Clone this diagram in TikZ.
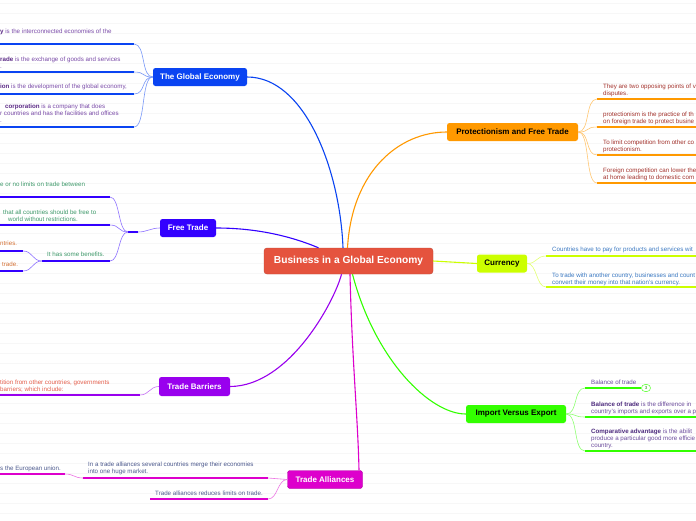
\documentclass[tikz,border=0pt]{standalone}
\usepackage{fontspec}
\setmainfont{Liberation Sans}
\definecolor{cCen}{HTML}{E5533E}
\definecolor{cGE}{HTML}{0A44F2}
\definecolor{cFT}{HTML}{3300FF}
\definecolor{cTB}{HTML}{9900EE}
\definecolor{cTA}{HTML}{DD00CC}
\definecolor{cPF}{HTML}{FF9900}
\definecolor{cCur}{HTML}{CCFF00}
\definecolor{cIE}{HTML}{33FF00}
\definecolor{tGE}{HTML}{7A4BA8}
\definecolor{tGEb}{HTML}{5B2A86}
\definecolor{tFT}{HTML}{3F9A6B}
\definecolor{tFTo}{HTML}{D47236}
\definecolor{tTB}{HTML}{E5604D}
\definecolor{tTA}{HTML}{4D5A8E}
\definecolor{tPF}{HTML}{A3322C}
\definecolor{tCur}{HTML}{3B79C2}
\definecolor{tIE}{HTML}{6B4B9C}
\definecolor{tIEb}{HTML}{4E2C7E}
\begin{document}
\begin{tikzpicture}[x=1pt,y=-1pt,
  leaf/.style={font=\fontsize{6.2}{7}\selectfont, inner sep=0pt, align=left, anchor=base west},
  topic/.style={rounded corners=2.5pt, font=\fontsize{8}{9}\selectfont\bfseries, align=center, inner sep=0pt},
  mainline/.style={line width=1.1pt, draw=#1},
  leafcon/.style={line width=0.6pt, draw=#1!55!white},
  uline/.style={line width=2.2pt, draw=#1}]
\useasboundingbox (0,0) rectangle (696,520);
\fill[white] (0,0) rectangle (696,520);
\foreach \k in {0,...,51} {\draw[black!3, line width=0.4pt] (0,3+10*\k) -- (696,3+10*\k);}

% central
\node[rounded corners=3pt, fill=cCen, draw=cCen!85!black, text=white, font=\fontsize{10.2}{11}\selectfont\bfseries, minimum width=169pt, minimum height=26pt, inner sep=0pt] (c) at (348.5,261) {Business in a Global Economy};

% topics
\node[topic, fill=cGE, text=white, minimum width=94pt, minimum height=18pt] (ge) at (200,77) {The Global Economy};
\node[topic, fill=cFT, text=white, minimum width=56pt, minimum height=18pt] (ft) at (188,228) {Free Trade};
\node[topic, fill=cTB, text=white, minimum width=71pt, minimum height=19pt] (tb) at (194.5,386.5) {Trade Barriers};
\node[topic, fill=cTA, draw=cTA!80!black, text=white, minimum width=75pt, minimum height=18pt] (ta) at (325,479.5) {Trade Alliances};
\node[topic, fill=cPF, text=black, minimum width=131pt, minimum height=18pt] (pf) at (512.5,132) {Protectionism and Free Trade};
\node[topic, fill=cCur, text=black, minimum width=50pt, minimum height=18pt] (cu) at (502,263.5) {Currency};
\node[topic, fill=cIE, text=black, minimum width=100pt, minimum height=18pt] (ie) at (516,414) {Import Versus Export};

% main connectors
\draw[mainline=cGE] (ge.east) .. controls (305,77) and (340,170) .. ([xshift=-5.5pt]c.north);
\draw[mainline=cFT] (ft.east) .. controls (265,228) and (300,240) .. ([xshift=-30pt]c.north);
\draw[mainline=cTB] (tb.east) .. controls (290,386) and (335,300) .. ([xshift=-7pt]c.south);
\draw[mainline=cTA] ([xshift=1.5pt]c.south) .. controls (352,360) and (358,420) .. ([xshift=34pt]ta.north);
\draw[mainline=cPF] ([xshift=-1pt]c.north) .. controls (352,170) and (400,132) .. (pf.west);
\draw[mainline=cCur] (c.east) -- (cu.west);
\draw[mainline=cIE] ([xshift=4pt]c.south) .. controls (375,360) and (430,414) .. (ie.west);

% ---------- The Global Economy leaves
\foreach \n/\y in {1/44,2/72,3/94,4/127} {
  \coordinate (ge\n a) at (0,\y); \coordinate (ge\n b) at (134,\y);
  \draw[uline=cGE] (ge\n a) -- (ge\n b);
  \draw[leafcon=cGE] (ge.west) .. controls +(-12,0) and +(12,0) .. (ge\n b);
}
\node[leaf, text=tGE] (ge1t) at (0,33) {\textcolor{tGEb}{\textbf{y}} is the interconnected economies of the};
\node[leaf, text=tGE] (ge2t) at (0,68) {\textcolor{tGEb}{\textbf{rade}} is the exchange of goods and services\\.};
\node[leaf, text=tGE] (ge3t) at (0,88) {\textcolor{tGEb}{\textbf{ion}} is the development of the global economy,};
\node[leaf, text=tGE] (ge4t) at (0,122) {\hspace{5pt}\textcolor{tGEb}{\textbf{corporation}} is a company that does\\r countries and has the facilities and offices\\.};

% ---------- Free Trade leaves
\coordinate (ftja) at (128,232); \coordinate (ftjb) at (138,232);
\draw[uline=cFT] (ftja) -- (ftjb);
\draw[leafcon=cFT] (ft.west) .. controls +(-9,0) and +(9,0) .. (ftjb);
\foreach \n/\y/\xa in {1/197/0,2/225/0,3/261/42} {
  \coordinate (ft\n a) at (\xa,\y); \coordinate (ft\n b) at (110,\y);
  \draw[uline=cFT] (ft\n a) -- (ft\n b);
  \draw[leafcon=cFT] (ftja) .. controls +(-10,0) and +(10,0) .. (ft\n b);
}
\foreach \n/\y in {1/251,2/271} {
  \coordinate (ftb\n a) at (0,\y); \coordinate (ftb\n b) at (23,\y);
  \draw[uline=cFT] (ftb\n a) -- (ftb\n b);
  \draw[leafcon=cFT] (ft3a) .. controls +(-10,0) and +(10,0) .. (ftb\n b);
}
\node[leaf, text=tFT] (ft1t) at (0,186) {e or no limits on trade between};
\node[leaf, text=tFT] (ft2t) at (3,214) {that all countries should be free to};
\node[leaf, text=tFT] (ft2u) at (8,221) {world without restrictions.};
\node[leaf, text=tFT] (ft3t) at (47,256) {It has some benefits.};
\node[leaf, text=tFTo] (ftb1t) at (0,245) {ntries.};
\node[leaf, text=tFTo] (ftb2t) at (2,266) {trade.};

% ---------- Trade Barriers leaves
\coordinate (tb1a) at (0,395); \coordinate (tb1b) at (140,395);
\draw[uline=cTB] (tb1a) -- (tb1b);
\draw[leafcon=cTB] (tb.west) .. controls +(-9,0) and +(9,0) .. (tb1b);
\node[leaf, text=tTB] (tb1t) at (0,391) {tition from other countries, governments\\barriers; which include:};

% ---------- Trade Alliances leaves
\coordinate (ta1a) at (83,478); \coordinate (ta1b) at (268,478);
\coordinate (ta2a) at (150,499); \coordinate (ta2b) at (268,499);
\coordinate (ta11a) at (0,474); \coordinate (ta11b) at (65,474);
\draw[uline=cTA] (ta1a) -- (ta1b);
\draw[uline=cTA] (ta2a) -- (ta2b);
\draw[uline=cTA] (ta11a) -- (ta11b);
\draw[leafcon=cTA] (ta.west) .. controls +(-10,0) and +(10,0) .. (ta1b);
\draw[leafcon=cTA] (ta.west) .. controls +(-10,0) and +(10,0) .. (ta2b);
\draw[leafcon=cTA] (ta1a) .. controls +(-9,0) and +(9,0) .. (ta11b);
\node[leaf, text=tTA] (ta1t) at (88,473) {In a trade alliances several countries merge their economies\\into one huge market.};
\node[leaf, text=tTA] (ta2t) at (155,495) {Trade alliances reduces limits on trade.};
\node[leaf, text=tTA] (ta11t) at (0,470) {s the European union.};

% ---------- Protectionism leaves
\foreach \n/\y in {1/99,2/127,3/155,4/183} {
  \coordinate (pf\n a) at (597,\y); \coordinate (pf\n b) at (700,\y);
  \draw[uline=cPF] (pf\n a) -- (pf\n b);
  \draw[leafcon=cPF] (pf.east) .. controls +(12,0) and +(-12,0) .. (pf\n a);
}
\node[leaf, text=tPF] (pf1t) at (603,95) {They are two opposing points of v\\disputes.};
\node[leaf, text=tPF] (pf2t) at (603,123) {protectionism is the practice of th\\on foreign trade to protect busine};
\node[leaf, text=tPF] (pf3t) at (603,151) {To limit competition from other co\\protectionism.};
\node[leaf, text=tPF] (pf4t) at (603,179) {Foreign competition can lower the\\at home leading to domestic com};

% ---------- Currency leaves
\foreach \n/\y in {1/256,2/287} {
  \coordinate (cu\n a) at (546,\y); \coordinate (cu\n b) at (700,\y);
  \draw[uline=cCur] (cu\n a) -- (cu\n b);
  \draw[leafcon=cCur] (cu.east) .. controls +(10,0) and +(-10,0) .. (cu\n a);
}
\node[leaf, text=tCur] (cu1t) at (552,251) {Countries have to pay for products and services wit};
\node[leaf, text=tCur] (cu2t) at (552,284) {To trade with another country, businesses and count\\convert their money into that nation's currency.};

% ---------- Import Versus Export leaves
\coordinate (ie1a) at (585,388); \coordinate (ie1b) at (641,388);
\coordinate (ie2a) at (585,417); \coordinate (ie2b) at (700,417);
\coordinate (ie3a) at (585,451); \coordinate (ie3b) at (700,451);
\foreach \n in {1,2,3} {
  \draw[uline=cIE] (ie\n a) -- (ie\n b);
  \draw[leafcon=cIE] (ie.east) .. controls +(12,0) and +(-12,0) .. (ie\n a);
}
\node[draw=cIE!70!white, fill=white, line width=0.6pt, rounded corners=3.5pt, minimum width=9pt, minimum height=7pt, inner sep=0pt, font=\fontsize{4.5}{5}\selectfont, text=cIE!60!black] (ie1n) at (646,388) {3};
\node[leaf, text=tIE] (ie1t) at (591,384) {Balance of trade};
\node[leaf, text=tIE] (ie2t) at (591,413) {\textcolor{tIEb}{\textbf{Balance of trade}} is the difference in\\country's imports and exports over a p};
\node[leaf, text=tIE] (ie3t) at (591,447) {\textcolor{tIEb}{\textbf{Comparative advantage}} is the abilit\\produce a particular good more efficie\\country.};
\end{tikzpicture}
\end{document}
